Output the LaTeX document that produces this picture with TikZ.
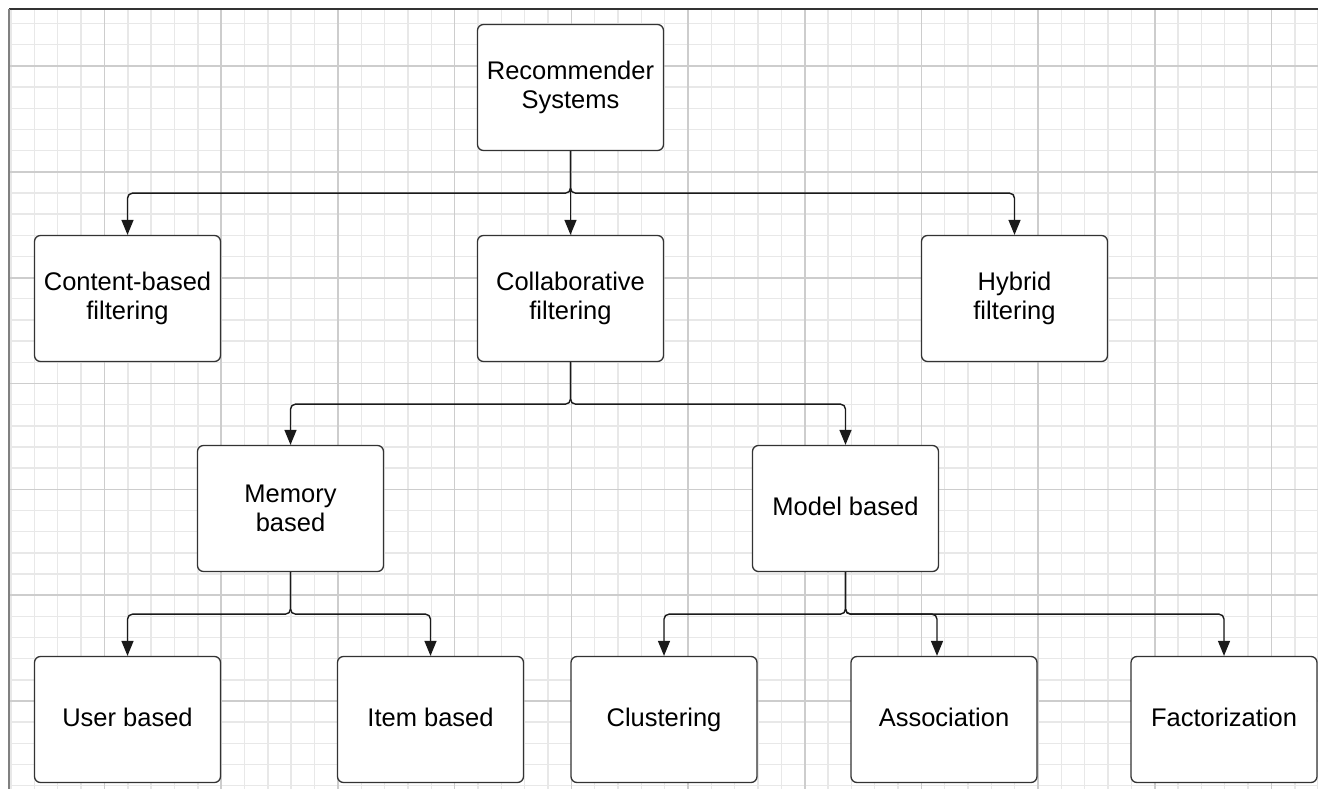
\documentclass[tikz,border=0pt]{standalone}
\usepackage{fontspec}
\setmainfont{Liberation Sans}
\usetikzlibrary{arrows.meta,calc}
\definecolor{boxc}{HTML}{333333}
\definecolor{linec}{HTML}{1A1A1A}
\definecolor{gridminor}{HTML}{E8E8E8}
\definecolor{gridmajor}{HTML}{CDCDCD}
\definecolor{frametop}{HTML}{333333}
\definecolor{frameleft}{HTML}{808080}
\begin{document}
\begin{tikzpicture}[x=1pt,y=-1pt,
  box/.style={draw=boxc, line width=1.3pt, fill=white, rounded corners=6pt,
    minimum width=186pt, minimum height=126pt, inner sep=0pt, align=center,
    font=\fontsize{25.5}{28.5}\selectfont, text=black},
  one/.style={text height=18.5pt, text depth=5.5pt},
  conn/.style={draw=linec, line width=1.4pt, rounded corners=5pt,
    -{Triangle[width=12pt,length=15pt]}},
  minorline/.style={draw=gridminor, line width=1.4pt},
  majorline/.style={draw=gridmajor, line width=1.6pt}]
\useasboundingbox (0,0) rectangle (1318,789);
\fill[white] (0,0) rectangle (1318,789);
% grid
\foreach \k in {0,...,56} {
  \pgfmathsetmacro\xx{11.1+\k*23.34}
  \draw[minorline] (\xx,9) -- (\xx,789);
}
\foreach \k in {1,...,37} {
  \pgfmathsetmacro\yy{2.4+\k*21.17}
  \draw[minorline] (9,\yy) -- (1318,\yy);
}
\foreach \m in {0,...,10} {
  \pgfmathsetmacro\xx{104.5+\m*116.7}
  \draw[majorline] (\xx,9) -- (\xx,789);
}
\foreach \m in {0,...,6} {
  \pgfmathsetmacro\yy{66+\m*105.85}
  \draw[majorline] (9,\yy) -- (1318,\yy);
}
\draw[frametop, line width=1.5pt] (9,9) -- (1318,9);
\draw[frameleft, line width=2pt] (9,9) -- (9,789);
% nodes
\node[box] (rec) at (570.5,87.5) {Recommender\\Systems};
\node[box] (cb) at (127.5,298.5) {Content-based\\filtering};
\node[box] (cf) at (570.5,298.5) {Collaborative\\filtering};
\node[box] (hf) at (1014.5,298.5) {Hybrid\\filtering};
\node[box] (mem) at (290.5,508.5) {Memory\\based};
\node[box,one] (mod) at (845.5,508.5) {Model based};
\node[box,one] (ub) at (127.5,719.5) {User based};
\node[box,one] (ib) at (430.5,719.5) {Item based};
\node[box,one] (cl) at (664,719.5) {Clustering};
\node[box,one] (as) at (944,719.5) {Association};
\node[box,one] (fa) at (1224,719.5) {Factorization};
\coordinate (asin) at ($(as.north)+(-7,0)$);
% connectors
\draw[conn] (rec.south) -- ++(0,42) -| (cb.north);
\draw[conn] (rec.south) -- (cf.north);
\draw[conn] (rec.south) -- ++(0,42) -| (hf.north);
\draw[conn] (cf.south) -- ++(0,42) -| (mem.north);
\draw[conn] (cf.south) -- ++(0,42) -| (mod.north);
\draw[conn] (mem.south) -- ++(0,42) -| (ub.north);
\draw[conn] (mem.south) -- ++(0,42) -| (ib.north);
\draw[conn] (mod.south) -- ++(0,42) -| (cl.north);
\draw[conn] (mod.south) -- ++(0,42) -| (asin);
\draw[conn] (mod.south) -- ++(0,42) -| (fa.north);
\end{tikzpicture}
\end{document}
